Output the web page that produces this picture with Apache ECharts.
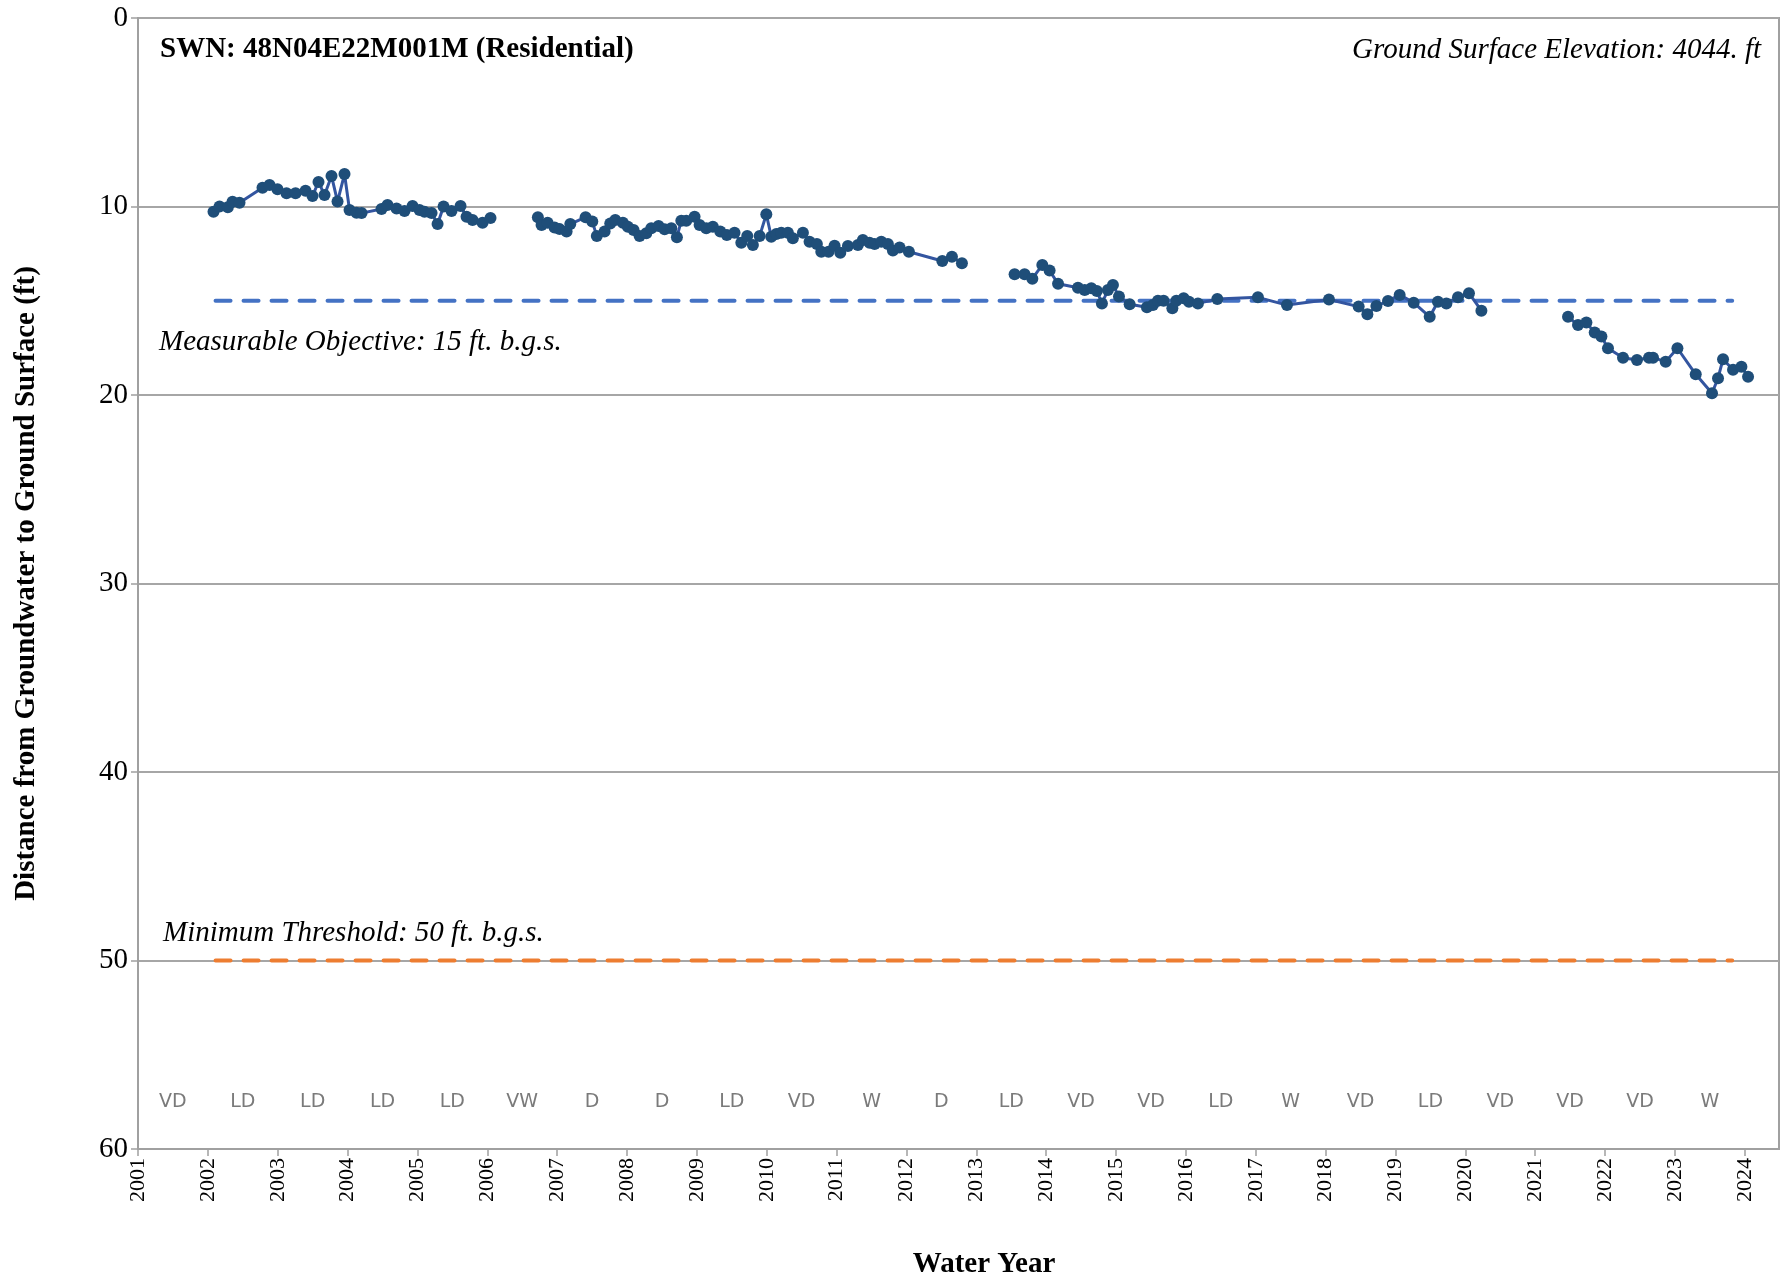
<!DOCTYPE html>
<html>
<head>
<meta charset="utf-8">
<script src="https://cdn.jsdelivr.net/npm/echarts@6/dist/echarts.min.js"></script>
<style>html,body{margin:0;padding:0;background:#fff;}#c{width:1787px;height:1281px;}</style>
</head>
<body>
<div id="c"></div>
<script>
// ---- Data (decimal water-year dates, depth to groundwater in ft) ----
const seg1Years  = [2002.081,2002.167,2002.286,2002.353,2002.453,2002.782,2002.883,2002.997,2003.126,2003.255,2003.398,2003.498,2003.584,2003.670,2003.770,2003.856,2003.956,2004.028,2004.128,2004.200,2004.486,2004.572,2004.701,2004.815,2004.930,2005.030,2005.101,2005.202,2005.288,2005.374,2005.488,2005.617,2005.703,2005.789,2005.932,2006.046];
const seg1Depths = [10.28,10.0,10.04,9.75,9.8,9.0,8.86,9.08,9.3,9.3,9.16,9.44,8.7,9.39,8.38,9.74,8.28,10.19,10.33,10.35,10.13,9.92,10.1,10.24,9.97,10.19,10.28,10.35,10.93,10.0,10.24,9.97,10.54,10.72,10.86,10.61];

const seg2Years  = [2006.724,2006.777,2006.863,2006.963,2007.035,2007.135,2007.188,2007.407,2007.503,2007.568,2007.679,2007.760,2007.832,2007.941,2008.012,2008.094,2008.180,2008.276,2008.347,2008.452,2008.538,2008.634,2008.714,2008.777,2008.848,2008.967,2009.039,2009.134,2009.229,2009.335,2009.429,2009.539,2009.636,2009.721,2009.802,2009.898,2009.994,2010.065,2010.137,2010.208,2010.303,2010.374,2010.518,2010.613,2010.718,2010.781,2010.885,2010.971,2011.053,2011.162,2011.305,2011.376,2011.472,2011.544,2011.640,2011.734,2011.806,2011.902,2012.035,2012.513,2012.651,2012.794];
const seg2Depths = [10.57,10.98,10.86,11.12,11.2,11.33,10.93,10.57,10.8,11.57,11.33,10.9,10.72,10.86,11.07,11.25,11.57,11.42,11.16,11.03,11.21,11.16,11.63,10.75,10.75,10.54,10.98,11.16,11.07,11.33,11.51,11.39,11.92,11.57,12.04,11.57,10.41,11.6,11.46,11.39,11.39,11.69,11.39,11.87,11.99,12.4,12.4,12.08,12.45,12.1,12.04,11.78,11.92,11.99,11.87,11.99,12.34,12.17,12.4,12.89,12.66,13.01];

const seg3Years  = [2013.548,2013.691,2013.802,2013.945,2014.049,2014.170,2014.455,2014.551,2014.646,2014.726,2014.798,2014.884,2014.956,2015.042,2015.195,2015.442,2015.528,2015.600,2015.681,2015.806,2015.863,2015.968,2016.044,2016.172,2016.450,2017.031,2017.447,2018.048,2018.473,2018.598,2018.727,2018.893,2019.060,2019.261,2019.490,2019.608,2019.729,2019.895,2020.052,2020.230];
const seg3Depths = [13.6,13.6,13.83,13.1,13.4,14.1,14.31,14.43,14.34,14.48,15.14,14.43,14.16,14.78,15.19,15.35,15.23,15.0,15.0,15.4,15.0,14.87,15.05,15.14,14.91,14.82,15.23,14.93,15.31,15.72,15.28,15.01,14.69,15.1,15.85,15.05,15.14,14.82,14.6,15.53];

const seg4Years  = [2021.470,2021.613,2021.733,2021.852,2021.948,2022.042,2022.257,2022.457,2022.629,2022.687,2022.868,2023.036,2023.298,2023.531,2023.617,2023.689,2023.832,2023.952,2024.047];
const seg4Depths = [15.85,16.29,16.16,16.69,16.9,17.52,18.02,18.14,18.02,18.02,18.23,17.52,18.9,19.91,19.11,18.1,18.66,18.5,19.03];

const objectiveLine = { start: 2002.11, end: 2023.82, depth: 15 };
const thresholdLine = { start: 2002.11, end: 2023.82, depth: 50 };

const yearTypeYears  = [2001,2002,2003,2004,2005,2006,2007,2008,2009,2010,2011,2012,2013,2014,2015,2016,2017,2018,2019,2020,2021,2022,2023];
const yearTypeLabels = ["VD","LD","LD","LD","LD","VW","D","D","LD","VD","W","D","LD","VD","VD","LD","W","VD","LD","VD","VD","VD","W"];
const yearTypeDepth = 57.5;

const yTicks = [0,10,20,30,40,50,60];
const titleText = "SWN: 48N04E22M001M (Residential)";
const elevText = "Ground Surface Elevation: 4044. ft";
const objText = "Measurable Objective: 15 ft. b.g.s.";
const thrText = "Minimum Threshold: 50 ft. b.g.s.";
const xTitle = "Water Year";

// ---- Build series data ----
function zipSeg(ys, ds) { return ys.map((y, i) => [y, ds[i]]); }
const segments = [[seg1Years, seg1Depths],[seg2Years, seg2Depths],[seg3Years, seg3Depths],[seg4Years, seg4Depths]];
let levelData = [];
segments.forEach((s, k) => {
  if (k > 0) levelData.push([ (s[0][0] + levelData[levelData.length-1][0]) / 2, '-' ]);
  levelData = levelData.concat(zipSeg(s[0], s[1]));
});

const serif = "'Liberation Serif', 'Times New Roman', serif";

const chart = echarts.init(document.getElementById('c'), null, { renderer: 'canvas' });
chart.setOption({
  animation: false,
  backgroundColor: '#ffffff',
  grid: { left: 138, right: 8, top: 18, bottom: 132, show: true, borderColor: '#a0a0a0', borderWidth: 2,
          containLabel: false, outerBoundsMode: 'none' },
  xAxis: {
    type: 'value', min: 2001, max: 2024.49, interval: 1,
    axisLine: { show: true, onZero: false, lineStyle: { color: '#a0a0a0', width: 2 } },
    axisTick: { show: true, length: 7, lineStyle: { color: '#a0a0a0', width: 1.5 } },
    axisLabel: { rotate: 90, fontFamily: serif, fontSize: 22, color: '#000', margin: 9, showMaxLabel: false,
      formatter: v => (Math.abs(v - Math.round(v)) < 1e-6 ? String(Math.round(v)) : '') },
    splitLine: { show: false }
  },
  yAxis: {
    type: 'value', min: 0, max: 60, interval: 10, inverse: true,
    name: 'Distance from Groundwater to Ground Surface (ft)', nameLocation: 'middle', nameGap: 97,
    nameTextStyle: { fontFamily: serif, fontWeight: 'bold', fontSize: 29, color: '#000' },
    axisLine: { show: true, onZero: false, lineStyle: { color: '#a0a0a0', width: 2 } },
    axisTick: { show: true, length: 7, lineStyle: { color: '#a0a0a0', width: 1.5 } },
    axisLabel: { fontFamily: serif, fontSize: 29, color: '#000', margin: 10,
      formatter: v => (yTicks.indexOf(v) >= 0 ? String(v) : '') },
    splitLine: { show: true, lineStyle: { color: '#a6a6a6', width: 2 } }
  },
  series: [
    {
      name: 'Objective', type: 'line', symbol: 'none', silent: true,
      data: [[objectiveLine.start, objectiveLine.depth], [objectiveLine.end, objectiveLine.depth]],
      lineStyle: { color: '#4472c4', width: 4, type: [15, 13], cap: 'round' }, z: 2
    },
    {
      name: 'Threshold', type: 'line', symbol: 'none', silent: true,
      data: [[thresholdLine.start, thresholdLine.depth], [thresholdLine.end, thresholdLine.depth]],
      lineStyle: { color: '#ed7d31', width: 4, type: [15, 13], cap: 'round' }, z: 2
    },
    {
      name: 'Depth', type: 'line', connectNulls: false,
      data: levelData,
      symbol: 'circle', symbolSize: 12, showAllSymbol: true,
      itemStyle: { color: '#1f4e79' },
      lineStyle: { color: '#3355a0', width: 3 }, z: 3
    },
    {
      name: 'YearType', type: 'scatter', symbolSize: 0, silent: true,
      data: yearTypeYears.map((y, i) => ({ value: [y + 0.5, yearTypeDepth], label: { formatter: yearTypeLabels[i] } })),
      label: { show: true, position: 'inside', fontFamily: "'DejaVu Sans', sans-serif", fontSize: 19, color: '#595959' }
    }
  ],
  graphic: [
    { type: 'text', left: 160, top: 35, style: { text: titleText, font: "bold 29px " + serif, fill: '#000' } },
    { type: 'text', right: 26, top: 36, style: { text: elevText, font: "italic 29px " + serif, fill: '#000' } },
    { type: 'text', left: 159, top: 328, style: { text: objText, font: "italic 29px " + serif, fill: '#000' } },
    { type: 'text', left: 163, top: 919, style: { text: thrText, font: "italic 29px " + serif, fill: '#000' } },
    { type: 'text', x: 984, y: 1265, style: { text: xTitle, font: "bold 29px " + serif, fill: '#000', textAlign: 'center', textVerticalAlign: 'middle' } }
  ]
});
</script>
</body>
</html>
